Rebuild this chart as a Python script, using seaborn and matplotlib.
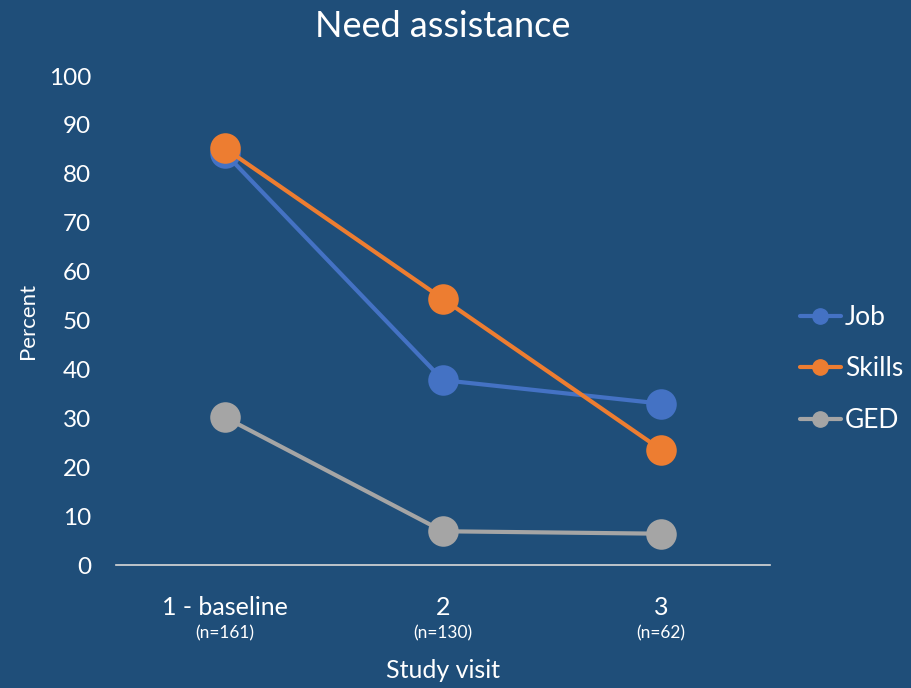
import matplotlib
matplotlib.use("Agg")
import matplotlib.pyplot as plt
import seaborn as sns
import pandas as pd

# Data
visits = ["1 - baseline", "2", "3"]
sample_sizes = ["(n=161)", "(n=130)", "(n=62)"]
job = [84.2, 37.8, 33.0]
skills = [85.2, 54.4, 23.6]
ged = [30.2, 6.9, 6.4]
series_names = ["Job", "Skills", "GED"]
colors = ["#4472C4", "#ED7D31", "#A5A5A5"]

bg = "#1F4E79"
fg = "white"

sns.set_theme(style="white")
plt.rcParams["font.family"] = ["Lato", "DejaVu Sans"]

rows = []
for name, vals in zip(series_names, [job, skills, ged]):
    for i, v in enumerate(vals):
        rows.append({"visit": i, "series": name, "value": v})
df = pd.DataFrame(rows)

fig = plt.figure(figsize=(9.12, 6.88), dpi=100, facecolor=bg)
ax = fig.add_axes([116 / 912, 1 - 565 / 688, (770 - 116) / 912, (565 - 76) / 688])
ax.set_facecolor(bg)

sns.lineplot(data=df, x="visit", y="value", hue="series", hue_order=series_names,
             palette=colors, marker="o", markersize=22, markeredgewidth=0,
             linewidth=3, ax=ax, legend=False)

ax.set_xlim(-0.5, 2.5)
ax.set_ylim(0, 100)
ax.set_yticks(range(0, 101, 10))
ax.set_xticks(range(len(visits)))
ax.set_xticklabels(visits, fontsize=18)
ax.tick_params(axis="y", length=0, colors=fg, labelsize=17.5, pad=18)
ax.tick_params(axis="x", length=0, colors=fg, pad=22)

for s in ["top", "right", "left"]:
    ax.spines[s].set_visible(False)
ax.spines["bottom"].set_color("#D9D9D9")
ax.spines["bottom"].set_linewidth(1.2)

for i, n in enumerate(sample_sizes):
    ax.text(i, -14, n, ha="center", va="center", color=fg, fontsize=12.5,
            transform=ax.transData, clip_on=False)

ax.set_xlabel("Study visit", color=fg, fontsize=18, labelpad=29)
ax.set_ylabel("Percent", color=fg, fontsize=16, labelpad=8)
ax.set_title("Need assistance", color=fg, fontsize=26, pad=28)

handles = [plt.Line2D([], [], color=c, marker="o", markersize=11, linewidth=3)
           for c in colors]
leg = fig.legend(handles, series_names, loc="center left",
                 bbox_to_anchor=(800 / 912, 1 - 369 / 688), frameon=False,
                 borderaxespad=0, borderpad=0,
                 fontsize=19, labelcolor=fg, handlelength=1.55, handletextpad=0.15,
                 labelspacing=1.0)

fig.savefig("out.png", dpi=100, facecolor=bg)
